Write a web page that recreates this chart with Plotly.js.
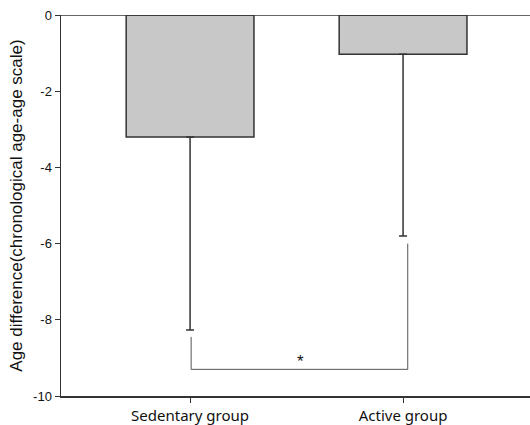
<!DOCTYPE html>
<html><head><meta charset="utf-8">
<script src="https://cdn.plot.ly/plotly-3.0.1.min.js"></script>
<style>html,body{margin:0;padding:0;background:#fff}</style>
</head><body><div id="chart" style="width:530px;height:425px"></div>
<script>
const categories = ['Sedentary group', 'Active group'];
const catPos = [0, 1];
const means = [-3.2, -1.03];
const sdLower = [5.07, 4.77];
const bracketX = [0.005, 0.005, 1.022, 1.022];
const bracketY = [-8.45, -9.3, -9.3, -6.0];
const sigLabel = '*';
const yTicks = [0, -2, -4, -6, -8, -10];

const bars = {
  type: 'bar', x: catPos, y: means, width: 0.6,
  marker: {color: '#c8c8c8', line: {color: '#333', width: 1.5}},
  error_y: {type: 'data', symmetric: false, array: [0, 0], arrayminus: sdLower,
    color: '#333', thickness: 1.5, width: 4},
  hoverinfo: 'none'
};
const bracket = {
  type: 'scatter', mode: 'lines', x: bracketX, y: bracketY,
  line: {color: '#555', width: 1}, hoverinfo: 'none'
};
const layout = {
  width: 530, height: 425,
  margin: {l: 61, r: 0, t: 15, b: 29},
  showlegend: false,
  paper_bgcolor: '#fff', plot_bgcolor: '#fff',
  font: {family: '"Liberation Sans", Arial, sans-serif', color: '#111'},
  xaxis: {range: [-0.606, 1.596], tickvals: catPos, ticktext: categories, showgrid: false, zeroline: false,
    showline: true, linecolor: '#333', linewidth: 1.5,
    ticks: 'outside', ticklen: 5, tickcolor: '#333', tickwidth: 1,
    tickfont: {size: 15, family: '"Noto Sans", "Open Sans", sans-serif'}},
  yaxis: {range: [-10, 0], tickvals: yTicks, ticktext: yTicks.map(String), showgrid: false, zeroline: false,
    showline: true, linecolor: '#333', linewidth: 1.5,
    ticks: 'outside', ticklen: 5, tickcolor: '#333', tickwidth: 1,
    tickfont: {size: 13},
    title: {text: 'Age difference(chronological age-age scale)', font: {size: 17}, standoff: 6}},
  shapes: [{type: 'line', xref: 'paper', yref: 'y', x0: 0, x1: 1, y0: 0, y1: 0,
    line: {color: '#333', width: 1.5}}],
  annotations: [{x: 0.52, y: -9.3, xref: 'x', yref: 'y', text: sigLabel, showarrow: false,
    yanchor: 'bottom', yshift: -4, font: {size: 17, color: '#111'}}]
};
Plotly.newPlot('chart', [bars, bracket], layout, {displayModeBar: false, staticPlot: true});
</script></body></html>
